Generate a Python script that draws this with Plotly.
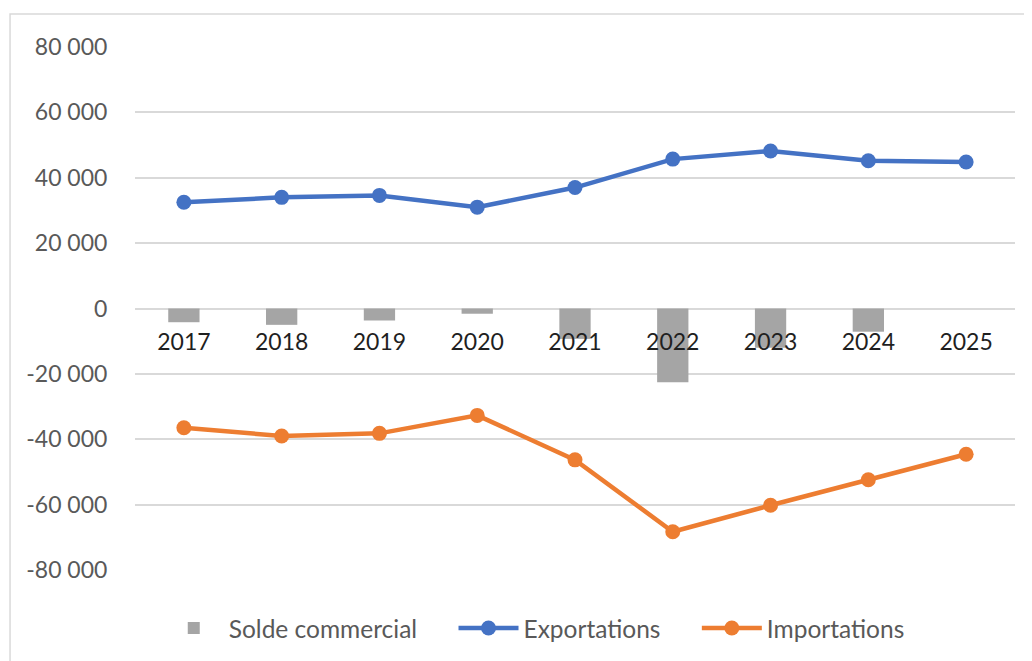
import plotly.graph_objects as go

years = ["2017", "2018", "2019", "2020", "2021", "2022", "2023", "2024", "2025"]
exportations = [32500, 34000, 34600, 31000, 37000, 45700, 48200, 45200, 44800]
importations = [-36500, -39000, -38200, -32700, -46300, -68300, -60200, -52400, -44600]
solde = [-4200, -5000, -3700, -1600, -9300, -22600, -12000, -7100, 0]

y_ticks = [-80000, -60000, -40000, -20000, 0, 20000, 40000, 60000, 80000]
y_labels = ["-80 000", "-60 000", "-40 000", "-20 000", "0", "20 000", "40 000", "60 000", "80 000"]

FONT = "Lato"
NB = "\u00a0"

fig = go.Figure()
fig.add_trace(go.Bar(
    x=years, y=solde, name="Solde commercial" + NB * 5,
    marker=dict(color="#A5A5A5", line=dict(width=0)),
))
fig.add_trace(go.Scatter(
    x=years, y=exportations, name="Exportations" + NB * 5, mode="lines+markers",
    line=dict(color="#4472C4", width=4.5),
    marker=dict(color="#4472C4", size=15),
))
fig.add_trace(go.Scatter(
    x=years, y=importations, name="Importations", mode="lines+markers",
    line=dict(color="#ED7D31", width=4.5),
    marker=dict(color="#ED7D31", size=15),
))

fig.update_layout(
    width=1024, height=653,
    margin=dict(l=127, r=17, t=39, b=90),
    paper_bgcolor="white", plot_bgcolor="white",
    bargap=0.68,
    font=dict(family=FONT, size=23, color="#595959"),
    showlegend=True,
    legend=dict(
        orientation="h", x=0.027, xanchor="left", y=-0.109, yanchor="middle",
        font=dict(family=FONT, size=24.5, color="#595959"),
        itemwidth=60, traceorder="normal",
    ),
    xaxis=dict(
        type="category", range=[-0.5, 8.5],
        anchor="free", position=0.5,
        showgrid=False, showline=False, zeroline=False,
        ticks="outside", ticklen=13, tickcolor="rgba(0,0,0,0)",
        tickfont=dict(family=FONT, size=23, color="#1F1F1F"),
    ),
    yaxis=dict(
        range=[-80000, 80000],
        tickvals=y_ticks, ticktext=y_labels,
        showgrid=True, gridcolor="#D9D9D9", gridwidth=1.5,
        zeroline=False, showline=False,
        ticks="outside", ticklen=22, tickcolor="rgba(0,0,0,0)",
        tickfont=dict(family=FONT, size=23, color="#595959"),
    ),
    shapes=[dict(
        type="rect", xref="paper", yref="paper",
        x0=-0.142, x1=1.018, y0=-0.2, y1=1.063,
        line=dict(color="#D9D9D9", width=1.5), fillcolor="rgba(0,0,0,0)",
        layer="below",
    )],
)

fig.write_html("out.html")
